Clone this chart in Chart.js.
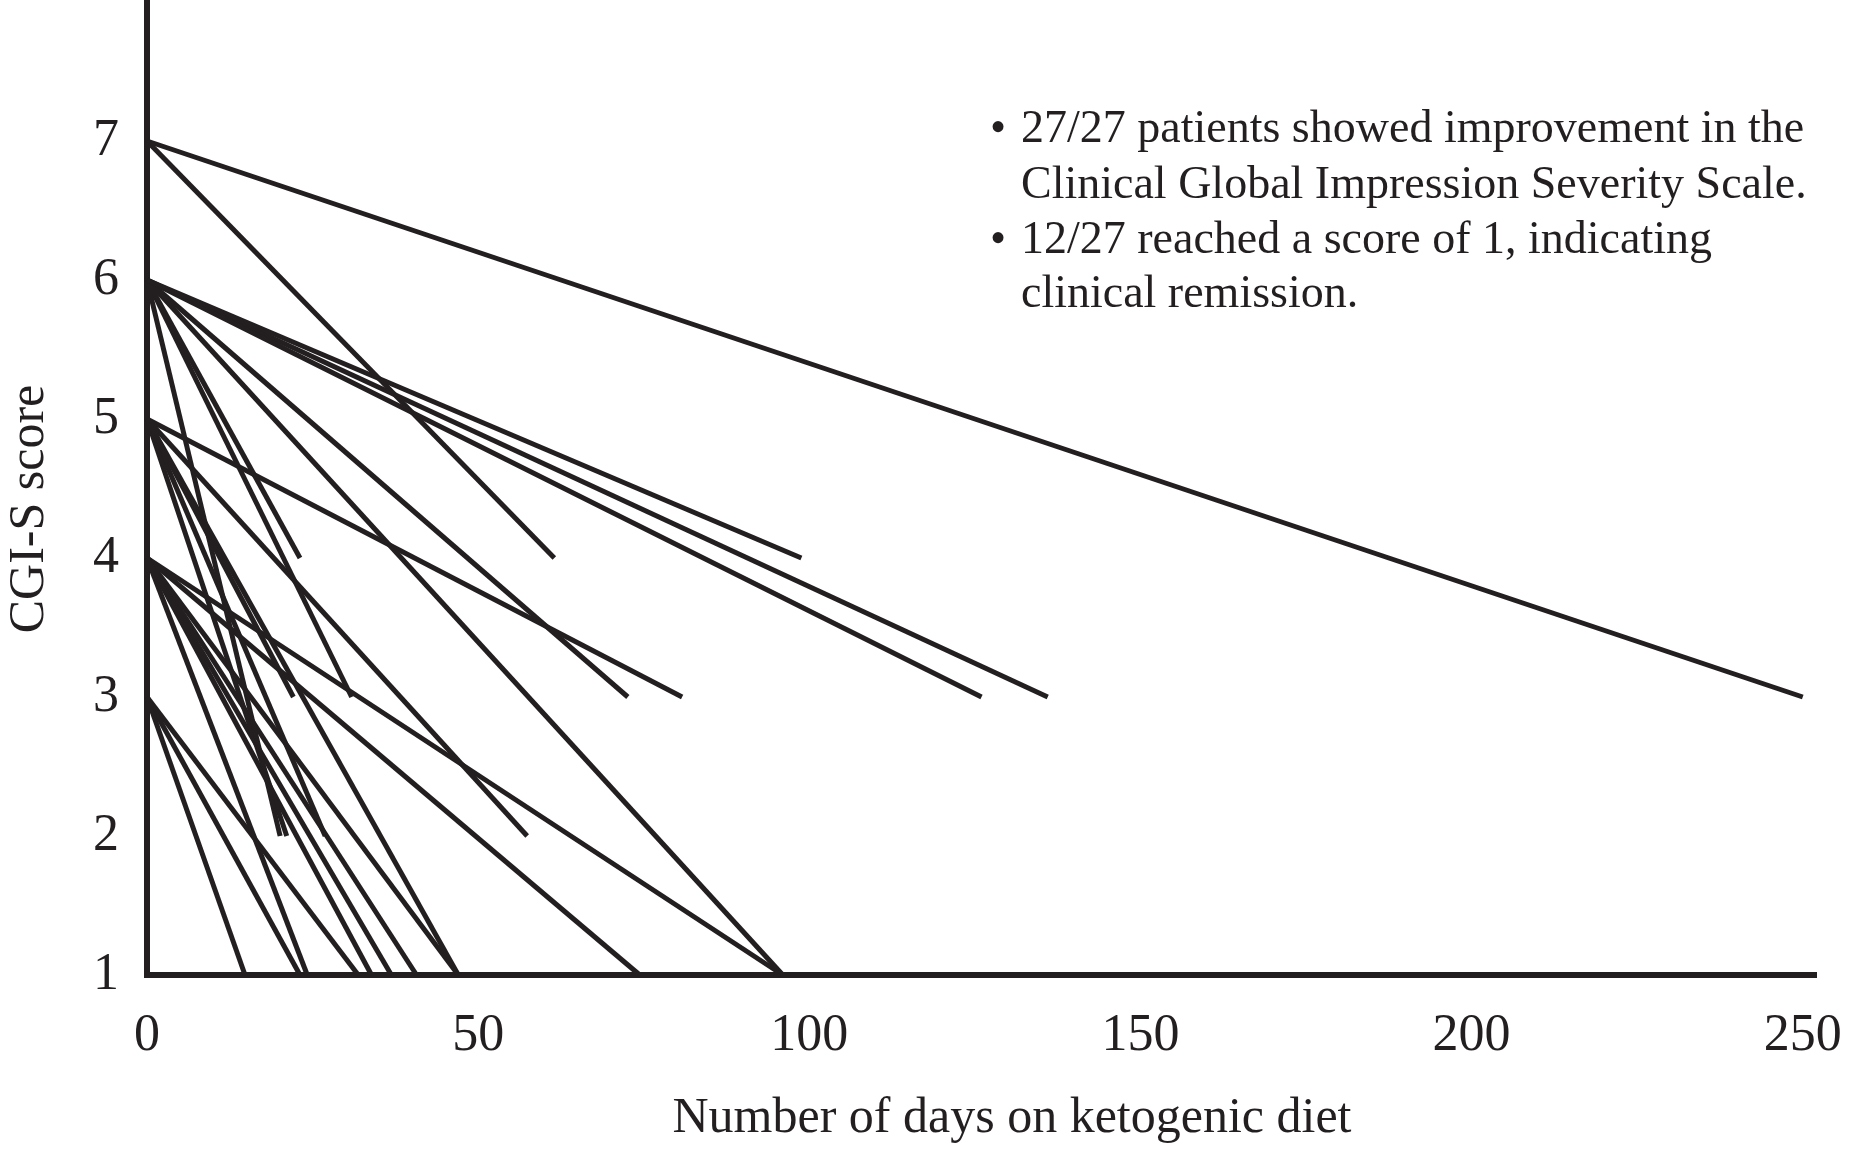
<!DOCTYPE html>
<html>
<head>
<meta charset="utf-8">
<script src="https://cdn.jsdelivr.net/npm/chart.js@4/dist/chart.umd.min.js"></script>
<style>
  html, body { margin: 0; padding: 0; background: #fff; }
  #wrap { width: 1856px; height: 1159px; }
</style>
</head>
<body>
<div id="wrap"><canvas id="chart" width="1856" height="1159"></canvas></div>
<script>
// one line per patient: score at day 0 -> score at last visit
const startScores = [7, 7, 6, 6, 6, 6, 6, 6, 6, 6, 5, 5, 5, 5, 5, 5, 4, 4, 4, 4, 4, 4, 4, 3, 3, 3];
const endDays = [250, 61.5, 98.8, 126, 136, 72.6, 96, 23.1, 30.9, 20.1, 80.8, 57.4, 22.1, 21.1, 26.9, 47, 24.2, 33.9, 36.9, 40.7, 47, 74.4, 96, 14.8, 23.1, 31.9];
const endScores = [3, 4, 4, 3, 3, 3, 1, 4, 3, 2, 3, 2, 3, 2, 2, 1, 1, 1, 1, 1, 1, 1, 1, 1, 1, 1];

const xTicks = [0, 50, 100, 150, 200, 250];
const yTicks = [1, 2, 3, 4, 5, 6, 7];

const xTitle = 'Number of days on ketogenic diet';
const yTitle = 'CGI-S score';
const notes = [
    ['\u2022 ', '27/27 patients showed improvement in the'],
    ['', 'Clinical Global Impression Severity Scale.'],
    ['\u2022 ', '12/27 reached a score of 1, indicating'],
    ['', 'clinical remission.']
];

const ink = '#231f20';
const serif = "'Liberation Serif', 'DejaVu Serif', serif";

const datasets = startScores.map((s, i) => ({
    data: [{ x: 0, y: s }, { x: endDays[i], y: endScores[i] }],
    showLine: true,
    borderColor: ink,
    borderWidth: 5,
    pointRadius: 0,
    fill: false,
    clip: false
}));

// axis titles (placed a little off-centre, as in the figure) and bullet text
const textPlugin = {
    id: 'texts',
    afterDraw(chart) {
        const ctx = chart.ctx;
        ctx.save();
        ctx.fillStyle = ink;
        ctx.textBaseline = 'middle';

        ctx.font = '50px ' + serif;
        ctx.textAlign = 'center';
        ctx.fillText(xTitle, 1012, 1119);
        ctx.save();
        ctx.translate(30, 509);
        ctx.rotate(-Math.PI / 2);
        ctx.fillText(yTitle, 0, 0);
        ctx.restore();

        ctx.font = '46px ' + serif;
        ctx.textAlign = 'left';
        const rows = [130, 186, 241, 295];
        notes.forEach((n, i) => {
            if (n[0]) ctx.fillText('\u2022', 990, rows[i]);
            ctx.fillText(n[1], 1021, rows[i]);
        });
        ctx.restore();
    }
};

// keep the plot area flush with the layout padding
function noPad(axis) {
    axis.paddingTop = 0;
    axis.paddingBottom = 0;
    axis.paddingLeft = 0;
    axis.paddingRight = 0;
}

new Chart(document.getElementById('chart'), {
    type: 'scatter',
    data: { datasets: datasets },
    options: {
        responsive: false,
        animation: false,
        devicePixelRatio: 1,
        layout: { padding: { left: 0, top: 2, right: 40, bottom: 0 } },
        plugins: {
            legend: { display: false },
            tooltip: { enabled: false }
        },
        scales: {
            x: {
                type: 'linear',
                min: 0,
                max: 252,
                afterBuildTicks: axis => { axis.ticks = xTicks.map(v => ({ value: v })); },
                afterFit: axis => { axis.height = 184; noPad(axis); },
                grid: { display: false, drawTicks: false },
                border: { display: true, color: ink, width: 6 },
                ticks: {
                    color: ink,
                    padding: 30,
                    maxRotation: 0,
                    font: { family: serif, size: 52 }
                }
            },
            y: {
                type: 'linear',
                min: 1,
                max: 8,
                afterBuildTicks: axis => { axis.ticks = yTicks.map(v => ({ value: v })); },
                afterFit: axis => { axis.width = 147; noPad(axis); },
                grid: { display: false, drawTicks: false },
                border: { display: true, color: ink, width: 6 },
                ticks: {
                    color: ink,
                    padding: 28,
                    font: { family: serif, size: 52 }
                }
            }
        }
    },
    plugins: [textPlugin]
});
</script>
</body>
</html>
